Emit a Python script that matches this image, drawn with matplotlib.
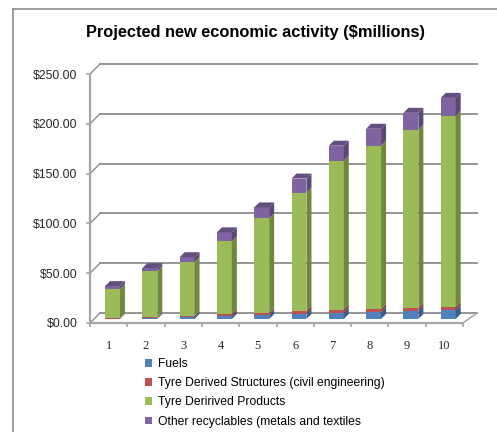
import numpy as np
import matplotlib.pyplot as plt
from matplotlib.lines import Line2D
from matplotlib.patches import Patch
from matplotlib.colors import to_rgb

plt.rcParams["font.family"] = ["Liberation Sans", "DejaVu Sans"]

# data ($ millions)
years = [1, 2, 3, 4, 5, 6, 7, 8, 9, 10]
fuels = [0.5, 1, 2, 3, 4, 5, 6.5, 7, 8, 9]
structures = [0.5, 1, 1, 2, 2, 3, 3, 3, 3, 3]
products = [29, 46, 54, 73, 95, 119, 149.5, 164, 179, 192]
other = [3, 3, 5, 9, 11, 14, 15, 17, 17, 18]

series = [
    ("Fuels", fuels, "#4F81BD"),
    ("Tyre Derived Structures (civil engineering)", structures, "#C0504D"),
    ("Tyre Deririved Products", products, "#9BBB59"),
    ("Other recyclables (metals and textiles", other, "#8064A2"),
]
y_ticks = [0, 50, 100, 150, 200, 250]

W, H = 497, 432
fig = plt.figure(figsize=(W / 100, H / 100), dpi=100)
ax = fig.add_axes([90 / W, 109 / H, 373 / W, 249 / H])
ax.set_xlim(0.5, 10.5)
ax.set_ylim(0, 250)

# pixel -> data helpers
px_x = 373 / 10.0
px_y = 249 / 250.0
gx = lambda p: p / px_x
gy = lambda p: p / px_y

grid_c = "#8C8C8C"
# back wall gridlines + left side wall diagonals
for v in y_ticks:
    ax.plot([0.5 + gx(10), 10.5 + gx(14)], [v + gy(10), v + gy(10)],
            color=grid_c, lw=1.3, clip_on=False, zorder=1)
    ax.plot([0.5, 0.5 + gx(10)], [v, v + gy(10)],
            color=grid_c, lw=1.0, clip_on=False, zorder=1)
# floor right edge
ax.plot([10.5, 10.5 + gx(14)], [0, gy(10)], color="#A0A0A0", lw=1.0,
        clip_on=False, zorder=1)


def shade(c, f):
    r, g, b = to_rgb(c)
    return (r * f, g * f, b * f)


# bars: front face + side face + top face
bw = 0.40
off_x, off_y = gx(3.85), gy(4)
dx, dy = gx(5), gy(5)
x = np.array(years) + off_x
bottom = np.zeros(len(years)) + off_y
for name, vals, col in series:
    vals = np.array(vals, dtype=float)
    ax.bar(x, vals, bw, bottom=bottom, color=col, linewidth=0, zorder=3)
    for xi, b, v in zip(x, bottom, vals):
        xr = xi + bw / 2
        ax.fill([xr, xr + dx, xr + dx, xr], [b, b + dy, b + v + dy, b + v],
                color=shade(col, 0.72), lw=0, zorder=3)
    bottom = bottom + vals
# top faces of the stacks
for xi, t in zip(x, bottom):
    xl, xr = xi - bw / 2, xi + bw / 2
    ax.fill([xl, xl + dx, xr + dx, xr], [t, t + dy, t + dy, t],
            color=shade("#8064A2", 0.78), lw=0, zorder=3)

# axes styling
for s in ["top", "right"]:
    ax.spines[s].set_visible(False)
for s in ["left", "bottom"]:
    ax.spines[s].set_color("#A6A6A6")
    ax.spines[s].set_linewidth(1.6)
ax.set_yticks(y_ticks)
ax.set_yticklabels(["${:.2f}".format(v) for v in y_ticks])
ax.set_xticks(years)
ax.set_xticklabels([str(y) for y in years], family="Liberation Serif")
ax.set_xticks(np.arange(0.5, 11, 1.0), minor=True)
ax.tick_params(axis="x", which="major", length=0, pad=12, labelsize=9,
               labelcolor="#262626")
ax.tick_params(axis="x", which="minor", length=3, width=1.2, color="#A6A6A6")
ax.tick_params(axis="y", length=3, width=1.2, color="#A6A6A6", pad=6,
               labelsize=8.8, labelcolor="#262626")
ax.set_facecolor("none")

fig.text(255 / W, 1 - 33 / H, "Projected new economic activity ($millions)",
         ha="center", va="center", fontsize=11.8, fontweight="bold")

# legend
handles = [Patch(facecolor=c, edgecolor="none", label=n) for n, _, c in series]
fig.legend(handles=handles, loc="upper left", bbox_to_anchor=(145 / W, 1 - 358 / H),
           frameon=False, fontsize=8.7, handlelength=0.6, handleheight=0.6,
           handletextpad=0.5, labelspacing=0.6, borderpad=0, borderaxespad=0)

# chart area border (left and top edges)
fig.add_artist(Line2D([13 / W, 13 / W], [0, 1 - 9 / H], color="#8C8C8C", lw=1.2))
fig.add_artist(Line2D([13 / W, 1], [1 - 9 / H, 1 - 9 / H], color="#8C8C8C", lw=1.2))

fig.savefig("out.png", dpi=100)
